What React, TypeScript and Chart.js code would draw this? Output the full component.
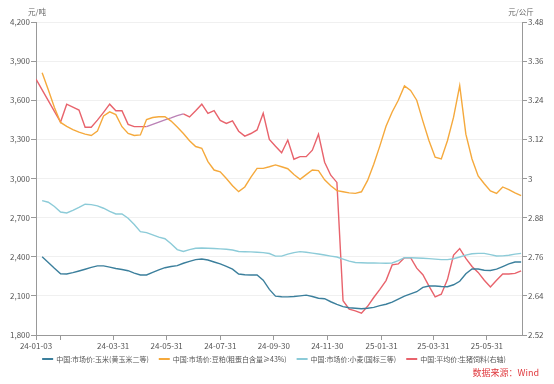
import React, { useEffect, useRef } from "react";
import { Chart, registerables } from "chart.js";

Chart.register(...registerables);

const dates = [
  "2024-01-03","2024-01-10","2024-01-17","2024-01-24","2024-01-31","2024-02-07","2024-02-14","2024-02-21","2024-02-28","2024-03-06",
  "2024-03-13","2024-03-20","2024-03-27","2024-04-03","2024-04-10","2024-04-17","2024-04-24","2024-05-01","2024-05-08","2024-05-15",
  "2024-05-22","2024-05-29","2024-06-05","2024-06-12","2024-06-19","2024-06-26","2024-07-03","2024-07-10","2024-07-17","2024-07-24",
  "2024-07-31","2024-08-07","2024-08-14","2024-08-21","2024-08-28","2024-09-04","2024-09-11","2024-09-18","2024-09-25","2024-10-02",
  "2024-10-09","2024-10-16","2024-10-23","2024-10-30","2024-11-06","2024-11-13","2024-11-20","2024-11-27","2024-12-04","2024-12-11",
  "2024-12-18","2024-12-25","2025-01-01","2025-01-08","2025-01-15","2025-01-22","2025-01-29","2025-02-05","2025-02-12","2025-02-19",
  "2025-02-26","2025-03-05","2025-03-12","2025-03-19","2025-03-26","2025-04-02","2025-04-09","2025-04-16","2025-04-23","2025-04-30",
  "2025-05-07","2025-05-14","2025-05-21","2025-05-28","2025-06-04","2025-06-11","2025-06-18","2025-06-25","2025-07-02","2025-07-09",
];

const corn = [
  null,2400,2356,2312,2270,2268,2278,2291,2304,2318,
  2330,2330,2320,2310,2302,2293,2275,2260,2260,2280,
  2300,2316,2325,2332,2350,2365,2378,2383,2375,2360,
  2345,2326,2305,2268,2262,2260,2260,2220,2150,2098,
  2093,2092,2095,2100,2106,2095,2082,2078,2055,2035,
  2018,2009,2005,2001,2005,2012,2025,2036,2052,2076,
  2098,2115,2132,2165,2176,2176,2172,2170,2185,2212,
  2270,2306,2306,2297,2295,2305,2325,2345,2360,2360,
];

const soyMeal = [
  null,3811,3680,3545,3430,3400,3375,3355,3340,3330,
  3363,3480,3511,3490,3397,3345,3330,3334,3452,3468,
  3474,3474,3440,3395,3345,3290,3245,3232,3130,3065,
  3051,3000,2945,2899,2935,3010,3078,3078,3090,3104,
  3090,3075,3030,2994,3030,3065,3060,2990,2945,2907,
  2898,2890,2886,2898,2985,3110,3250,3400,3510,3600,
  3710,3675,3600,3440,3290,3163,3150,3290,3470,3712,
  3340,3150,3020,2960,2905,2885,2935,2915,2890,2868,
];

const wheat = [
  null,2830,2818,2785,2743,2736,2755,2778,2803,2800,
  2790,2772,2748,2728,2728,2695,2647,2592,2585,2567,
  2550,2538,2500,2455,2440,2455,2465,2467,2465,2463,
  2460,2458,2452,2440,2438,2437,2434,2432,2425,2405,
  2405,2420,2432,2439,2434,2428,2421,2413,2405,2398,
  2382,2366,2356,2354,2352,2352,2351,2350,2352,2370,
  2393,2392,2390,2388,2386,2382,2378,2378,2385,2398,
  2412,2423,2426,2426,2416,2406,2407,2412,2420,2426,
];

const pigFeed = [
  3.305,3.272,3.239,3.206,3.173,3.228,3.219,3.21,3.157,3.157,
  3.179,3.203,3.228,3.208,3.208,3.166,3.159,3.159,3.159,3.166,
  3.173,3.18,3.186,3.193,3.198,3.189,3.208,3.228,3.2,3.208,
  3.178,3.169,3.177,3.145,3.13,3.138,3.149,3.2,3.12,3.099,
  3.079,3.118,3.059,3.067,3.067,3.087,3.136,3.05,3.01,2.988,
  2.625,2.599,2.594,2.587,2.608,2.635,2.66,2.687,2.735,2.738,
  2.757,2.757,2.725,2.705,2.67,2.637,2.645,2.69,2.765,2.785,
  2.755,2.73,2.712,2.688,2.667,2.688,2.707,2.707,2.709,2.717,
];

const seriesNames = [
  "中国:市场价:玉米(黄玉米二等)",
  "中国:市场价:豆粕(粗蛋白含量≥43%)",
  "中国:市场价:小麦(国标三等)",
  "中国:平均价:生猪饲料(右轴)",
];
const seriesColors = ["#3b7f9c", "#f5a93c", "#8ccbd8", "#e8636c"];

const xTickDates = [
  "2024-01-03","2024-01-31","2024-03-31","2024-05-31","2024-07-31",
  "2024-09-30","2024-11-30","2025-01-31","2025-03-31","2025-05-31",
];
const xTickLabels = [
  "24-01-03","","24-03-31","24-05-31","24-07-31",
  "24-09-30","24-11-30","25-01-31","25-03-31","25-05-31",
];
const leftTicks = [1800, 2100, 2400, 2700, 3000, 3300, 3600, 3900, 4200];
const rightTicks = [2.52, 2.64, 2.76, 2.88, 3, 3.12, 3.24, 3.36, 3.48];

const leftUnit = "元/吨";
const rightUnit = "元/公斤";
const sourceText = "数据来源：Wind";

const FONT = "'Noto Sans CJK SC', 'Noto Sans', sans-serif";
const BASE = Date.UTC(2024, 0, 3);
const dayOf = (s: string) => {
  const [y, m, d] = s.split("-").map(Number);
  return (Date.UTC(y, m - 1, d) - BASE) / 86400000;
};

const toPoints = (vals: (number | null)[]) =>
  dates.map((d, i) => ({ x: dayOf(d), y: vals[i] }));

const overlayPlugin = {
  id: "overlay",
  afterDraw(chart: any) {
    const ctx = chart.ctx;
    const area = chart.chartArea;
    ctx.save();
    // unit labels
    ctx.fillStyle = "#666";
    ctx.font = `7.5px ${FONT}`;
    ctx.textAlign = "center";
    ctx.textBaseline = "middle";
    ctx.fillText(leftUnit, area.left + 1, 12);
    ctx.fillText(rightUnit, area.right - 1, 12);
    // legend
    ctx.font = `7px ${FONT}`;
    const markW = 11, gapMark = 3, gapItem = 10;
    const widths = seriesNames.map((n) => ctx.measureText(n).width);
    const total =
      widths.reduce((a, b) => a + b, 0) + seriesNames.length * (markW + gapMark) + (seriesNames.length - 1) * gapItem;
    let x = 274 - total / 2;
    const y = 359;
    ctx.textAlign = "left";
    seriesNames.forEach((n, i) => {
      ctx.strokeStyle = seriesColors[i];
      ctx.lineWidth = 2;
      ctx.beginPath();
      ctx.moveTo(x, y);
      ctx.lineTo(x + markW, y);
      ctx.stroke();
      x += markW + gapMark;
      ctx.fillStyle = "#555";
      ctx.fillText(n, x, y);
      x += widths[i] + gapItem;
    });
    // source
    ctx.font = `9px ${FONT}`;
    ctx.fillStyle = "#e0393e";
    ctx.textAlign = "right";
    ctx.fillText(sourceText, 539, 373);
    ctx.restore();
  },
};

export default function App() {
  const ref = useRef<HTMLCanvasElement | null>(null);
  useEffect(() => {
    if (!ref.current) return;
    const tickFont = { family: FONT, size: 8 };
    const chart = new Chart(ref.current, {
      type: "line",
      data: {
        datasets: [
          { label: seriesNames[0], data: toPoints(corn), borderColor: seriesColors[0], yAxisID: "y" },
          { label: seriesNames[1], data: toPoints(soyMeal), borderColor: seriesColors[1], yAxisID: "y" },
          { label: seriesNames[2], data: toPoints(wheat), borderColor: seriesColors[2], yAxisID: "y" },
          {
            label: seriesNames[3],
            data: toPoints(pigFeed),
            borderColor: seriesColors[3],
            yAxisID: "y1",
            segment: {
              borderColor: (c: any) =>
                c.p0DataIndex >= 18 && c.p1DataIndex <= 24 ? "#bb82b6" : undefined,
            },
          },
        ] as any,
      },
      options: {
        animation: false,
        responsive: false,
        layout: { padding: { top: 22, left: 0, right: 0, bottom: 0 } },
        elements: {
          point: { radius: 0 },
          line: { borderWidth: 1.4, tension: 0 },
        },
        plugins: { legend: { display: false }, tooltip: { enabled: false } },
        scales: {
          x: {
            type: "linear",
            min: 0,
            max: 554,
            afterFit: (s: any) => { s.height = 49; },
            afterBuildTicks: (s: any) => {
              s.ticks = xTickDates.map((d) => ({ value: dayOf(d) }));
            },
            ticks: {
              autoSkip: false,
              maxRotation: 0,
              padding: 1,
              color: "#555",
              font: tickFont,
              callback: (_v: any, i: number) => xTickLabels[i],
            },
            grid: { drawOnChartArea: false, tickLength: 5, tickColor: "#999" },
            border: { color: "#999" },
          },
          y: {
            position: "left",
            min: 1800,
            max: 4200,
            afterFit: (s: any) => { s.width = 36; },
            afterBuildTicks: (s: any) => {
              s.ticks = leftTicks.map((v) => ({ value: v }));
            },
            ticks: {
              padding: 1,
              color: "#555",
              font: tickFont,
              callback: (v: any) => Number(v).toLocaleString("en-US"),
            },
            grid: { color: "#f0f0f0", tickColor: "#999", tickLength: 5 },
            border: { color: "#999" },
          },
          y1: {
            position: "right",
            min: 2.52,
            max: 3.48,
            afterFit: (s: any) => { s.width = 32; },
            afterBuildTicks: (s: any) => {
              s.ticks = rightTicks.map((v) => ({ value: v }));
            },
            ticks: {
              padding: 1,
              color: "#555",
              font: tickFont,
              callback: (v: any) => String(Number(Number(v).toFixed(2))),
            },
            grid: { drawOnChartArea: false, tickColor: "#999", tickLength: 5 },
            border: { color: "#999" },
          },
        },
      } as any,
      plugins: [overlayPlugin],
    });
    return () => chart.destroy();
  }, []);
  return (
    <div style={{ position: "absolute", left: 0, top: 0, width: 554, height: 384, background: "#fff" }}>
      <canvas ref={ref} width={554} height={384} />
    </div>
  );
}
